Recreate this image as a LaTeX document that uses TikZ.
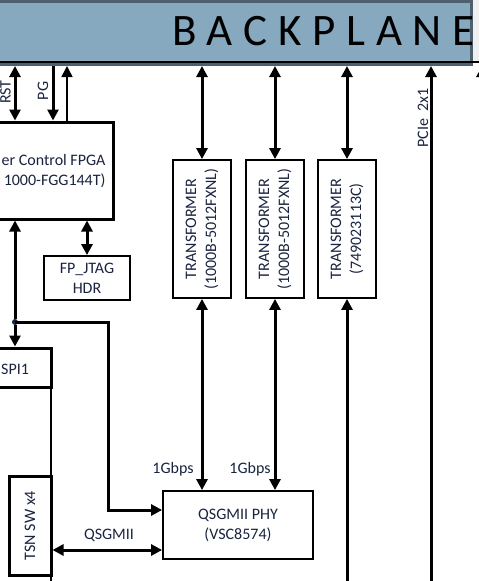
\documentclass[tikz,border=0pt]{standalone}
\usepackage{fontspec}
\setmainfont{Carlito}
\newfontfamily\bpfont{Carlito}[LetterSpace=24]
\usetikzlibrary{arrows.meta}
\definecolor{bpfill}{HTML}{87A9C0}
\definecolor{bpedge}{HTML}{4E5F6E}
\definecolor{labeltext}{HTML}{1A2440}
\tikzset{
  boldbox/.style={draw, line width=3pt, fill=white, inner sep=0pt},
  thinbox/.style={draw, line width=1.8pt, fill=white, inner sep=0pt},
  xfmr/.style={thinbox, minimum width=57.7pt, minimum height=138pt},
  link/.style={line width=3pt},
  sidetext/.style={rotate=90, align=center}
}
\begin{document}
\begin{tikzpicture}[x=1pt, y=-1pt, >={Triangle[width=11pt,length=11pt]},
    every node/.style={font=\fontsize{16}{20}\selectfont, text=labeltext}]
    \useasboundingbox (0,0) rectangle (479,581);

    % Backplane strip
    \fill[gray!12] (472,0) rectangle (479,62);
    \node[draw=bpedge, fill=bpfill, line width=3pt, inner sep=0pt,
          minimum width=481.5pt, minimum height=63pt] (bp) at (230.75,33) {};
    \node[anchor=base east, inner sep=0pt, text=black,
          font=\bpfont\fontsize{45}{50}\selectfont] (bptitle) at (475,45) {BACKPLANE};
    \draw[line width=1.2pt] (0,62) -- (479,62);

    % Some coordinates
    \coordinate (rst) at (15,0);
    \coordinate (pg) at (53,0);
    \coordinate (pgret) at (67,0);
    \coordinate (floor) at (0,585);
    \coordinate (pcie) at (431,0);
    \coordinate (edge) at (482,110);

    % Power control FPGA and its header
    \node[boldbox, minimum width=173pt, minimum height=97pt] (fpga) at (26.5,170.5) {};
    \node[anchor=east, align=right] (fpgatxt) at (109,171.5) {er Control FPGA\\1000-FGG144T)};
    \node[thinbox, minimum width=86pt, minimum height=44pt, align=center] (jtag) at (87,278) {FP\_JTAG\\HDR};

    % Transformers
    \node[xfmr] (t1) at (202,229) {};
    \node[xfmr] (t2) at (275,229) {};
    \node[xfmr] (t3) at (347,229) {};
    \node[sidetext] (t1txt) at (t1) {TRANSFORMER\\(1000B-5012FXNL)};
    \node[sidetext] (t2txt) at (t2) {TRANSFORMER\\(1000B-5012FXNL)};
    \node[sidetext] (t3txt) at (t3) {TRANSFORMER\\(749023113C)};

    % SPI, switch and PHY
    \node[boldbox, minimum width=81pt, minimum height=39pt] (spi) at (10.5,367.5) {};
    \node[anchor=west, inner sep=0pt] (spitxt) at (1,369) {SPI1};
    \draw[line width=1.2pt] (51,387) -- (51,585);
    \node[boldbox, minimum width=42pt, minimum height=99pt] (tsn) at (30,525.5) {};
    \node[sidetext] (tsntxt) at (tsn) {TSN SW x4};
    \node[thinbox, minimum width=150pt, minimum height=68pt, align=center] (phy) at (238,525) {QSGMII PHY\\(VSC8574)};

    % Backplane links
    \draw[link, <->] (rst |- bp.south) -- (rst |- fpga.north);
    \draw[link, ->] (pg |- bp.south) -- (pg |- fpga.north);
    \draw[line width=1.6pt, ->] (pgret |- fpga.north) -- (pgret |- bp.south);
    \node[sidetext, anchor=base, inner sep=0pt] (rsttxt) at (10.5,92) {RST};
    \node[sidetext, anchor=base, inner sep=0pt] (pgtxt) at (48,91) {PG};
    \draw[link, <->] (t1.north |- bp.south) -- (t1.north);
    \draw[link, <->] (t2.north |- bp.south) -- (t2.north);
    \draw[link, <->] (t3.north |- bp.south) -- (t3.north);
    \draw[link, ->] (pcie |- floor) -- (pcie |- bp.south);
    \node[sidetext, anchor=base, inner sep=0pt] (pcietxt) at (428,118) {PCIe\ \ 2x1};
    \draw[link, ->] (edge) -- (edge |- bp.south);

    % FPGA links
    \draw[link, <->] (fpga.south -| jtag) -- (jtag.north);
    \node[circle, fill=labeltext, inner sep=0pt, minimum size=6pt] (tap) at (15,322) {};
    \draw[link, <-] (fpga.south -| tap) -- (tap);
    \draw[link, ->] (tap) -- (tap |- spi.north);
    \coordinate (bend) at (108,510);
    \draw[link, ->] (tap.center) -| (bend) -- (bend -| phy.west);

    % PHY links
    \draw[link, <->] (t1.south) -- (t1.south |- phy.north);
    \draw[link, <->] (t2.south) -- (t2.south |- phy.north);
    \draw[link, <-] (t3.south) -- (t3.south |- floor);
    \node (gb1) at (173,469) {1Gbps};
    \node (gb2) at (250,469) {1Gbps};
    \coordinate (qs) at (100,550);
    \draw[link, <->] (tsn.east |- qs) -- (phy.west |- qs);
    \node (qstxt) at (109,535) {QSGMII};
\end{tikzpicture}
\end{document}
